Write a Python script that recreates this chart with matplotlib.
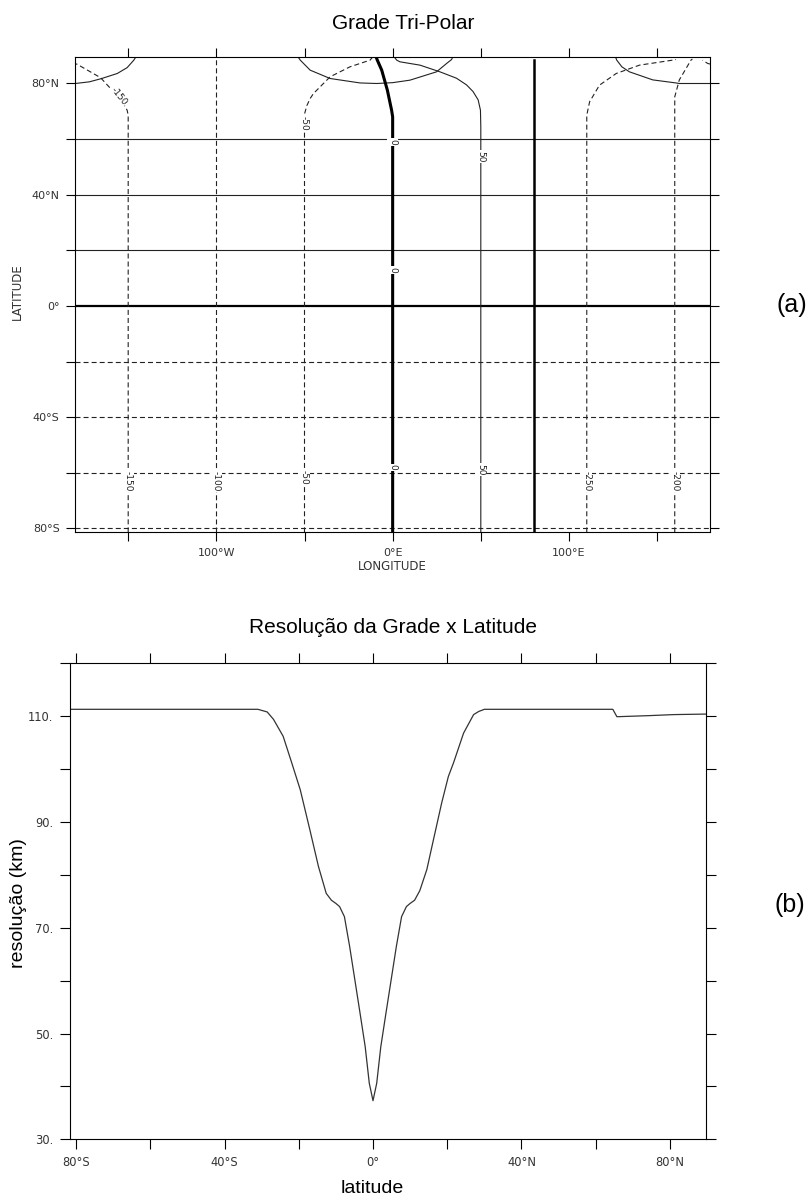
import matplotlib
matplotlib.use("Agg")
import matplotlib.pyplot as plt

plt.rcParams["lines.scale_dashes"] = False

# ---- painel (a): linhas de contorno da grade tri-polar (lon, lat)
lat_levels = [-80, -60, -40, -20, 0, 20, 40, 60]

lat80_w_lon = [-180, -172, -165, -156.2, -150.6, -146.8, -145.8]
lat80_w_lat = [80.0, 80.6, 81.8, 83.6, 85.7, 88.4, 89.4]
lat80_m_lon = [-53.5, -52.4, -46.8, -35.5, -18.5, -9.1, 0.0, 9.8, 24.9, 30.6, 33.4, 34.0]
lat80_m_lat = [89.4, 88.4, 84.8, 81.8, 80.2, 80.0, 80.3, 81.2, 84.2, 87.2, 88.6, 89.4]
lat80_e_lon = [126.5, 127.1, 130.0, 134.3, 147.5, 160.7, 162.6, 180]
lat80_e_lat = [89.4, 88.4, 86.0, 84.2, 81.3, 80.2, 80.0, 80.0]

lon_m150_lon = [-150, -150, -150.6, -155.3, -160, -165.7, -172.3, -178.9, -180]
lon_m150_lat = [-81.4, 68.6, 70.4, 75.5, 78.2, 82.1, 84.5, 86.9, 87.1]
lon_m150b_lon = [180, 178.7, 175.8]
lon_m150b_lat = [87.0, 87.2, 88.4]
lon_m100_lon = [-100, -100]
lon_m100_lat = [-81.4, 89.4]
lon_m50_lon = [-50, -50, -48.7, -46.8, -44.9, -35.5, -24.2, -12.8, -11.5]
lon_m50_lat = [-81.4, 69.0, 72.0, 74.6, 76.4, 82.4, 86.0, 88.4, 89.4]
lon_0_lon = [0, 0, -0.6, -3.0, -6.2, -8.7, -9.3]
lon_0_lat = [-81.4, 68.0, 70.4, 77.6, 84.8, 88.4, 89.4]
lon_50_lon = [50, 50, 49.8, 48.5, 45.6, 41.9, 36.2, 26.8, 15.5, 4.1, 2.3, 1.3]
lon_50_lat = [-81.4, 64.4, 70.4, 74.1, 77.1, 79.5, 81.9, 84.2, 86.6, 87.8, 88.4, 89.2]
lon_80_lon = [80, 80]
lon_80_lat = [-81.4, 88.3]
lon_m250_lon = [110.1, 110.1, 111.7, 117.3, 126.8, 140.0, 158.8, 160.7]
lon_m250_lat = [-81.4, 68.6, 73.4, 79.4, 83.6, 86.6, 88.4, 88.6]
lon_m200_lon = [160, 160, 162.6, 169.2, 170.0]
lon_m200_lat = [-81.4, 75.2, 81.3, 88.4, 88.8]

clabel_text = ["-150", "-100", "-50", "0", "50", "-250", "-200",
               "-150", "-50", "0", "50", "0"]
clabel_lon = [-150, -100, -50, 0, 50, 110.1, 160, -155.3, -50, 0, 50, 0]
clabel_lat = [-62.9, -62.9, -61.8, -58.0, -58.9, -62.9, -62.9, 75.5, 65.7, 59.0, 53.6, 12.9]
clabel_rot = [-90, -90, -90, -90, -90, -90, -90, -51, -90, -90, -90, -90]

xticks_a = [-150, -100, -50, 0, 50, 100, 150]
xlabels_a = ["", "100°W", "", "0°E", "", "100°E", ""]
yticks_a = [-80, -60, -40, -20, 0, 20, 40, 60, 80]
ylabels_a = ["80°S", "", "40°S", "", "0°", "", "40°N", "", "80°N"]

# ---- painel (b): resolução x latitude
lat = [-81.7, -31.0, -30.0, -28.5, -26.8, -24.2, -21.9, -19.6, -17.0, -14.7, -12.6,
       -11.2, -10.0, -9.0, -7.7, -6.3, -4.9, -3.5, -2.1, -1.0, 0.0, 1.0, 2.1, 3.5,
       4.9, 6.3, 7.7, 9.0, 10.0, 11.2, 12.6, 14.5, 16.3, 18.5, 20.3, 21.7, 24.4,
       27.1, 28.5, 30.0, 64.6, 65.7, 74.2, 81.0, 89.7]
res = [111.3, 111.3, 111.1, 110.8, 109.4, 106.2, 101.2, 96.1, 88.5, 81.6, 76.5,
       75.2, 74.6, 74.0, 72.1, 66.5, 60.2, 53.9, 47.5, 40.6, 37.3, 40.6, 47.5, 53.9,
       60.2, 66.5, 72.1, 74.0, 74.6, 75.2, 77.0, 81.0, 86.7, 93.6, 98.6, 101.2, 106.8,
       110.3, 110.9, 111.3, 111.3, 109.9, 110.1, 110.3, 110.4]

xticks_b = [-80, -60, -40, -20, 0, 20, 40, 60, 80]
xlabels_b = ["80°S", "", "40°S", "", "0°", "", "40°N", "", "80°N"]
yticks_b = [30, 40, 50, 60, 70, 80, 90, 100, 110, 120]
ylabels_b = ["30.", "", "50.", "", "70.", "", "90.", "", "110.", ""]

fig = plt.figure(figsize=(8.11, 11.95), dpi=100)

thin = dict(color="#222222", lw=0.8)
dash = dict(color="#222222", lw=0.8, dashes=(3.6, 2.2))
thick = dict(color="black", lw=2.2)

ax1 = fig.add_axes([0.09285, 0.55456, 0.78262, 0.39749])
for lv in lat_levels:
    st = dash if lv < 0 else thin
    if lv == 0:
        st = dict(color="black", lw=1.6)
    ax1.plot([-180, 180], [lv, lv], **st)
ax1.plot(lat80_w_lon, lat80_w_lat, **thin)
ax1.plot(lat80_m_lon, lat80_m_lat, **thin)
ax1.plot(lat80_e_lon, lat80_e_lat, **thin)

ax1.plot(lon_m150_lon, lon_m150_lat, **dash)
ax1.plot(lon_m150b_lon, lon_m150b_lat, **dash)
ax1.plot(lon_m100_lon, lon_m100_lat, **dash)
ax1.plot(lon_m50_lon, lon_m50_lat, **dash)
ax1.plot(lon_0_lon, lon_0_lat, **thick)
ax1.plot(lon_50_lon, lon_50_lat, **thin)
ax1.plot(lon_80_lon, lon_80_lat, color="black", lw=1.8)
ax1.plot(lon_m250_lon, lon_m250_lat, **dash)
ax1.plot(lon_m200_lon, lon_m200_lat, **dash)

for t, x, y, r in zip(clabel_text, clabel_lon, clabel_lat, clabel_rot):
    ax1.text(x, y, t, rotation=r, ha="center", va="center", fontsize=6.5,
             family="DejaVu Sans", color="#222222",
             bbox=dict(fc="white", ec="none", pad=0.6))

ax1.set_xlim(-180, 180)
ax1.set_ylim(-81.37, 89.42)
ax1.set_xticks(xticks_a, xlabels_a)
ax1.set_yticks(yticks_a, ylabels_a)
ax1.tick_params(direction="out", length=6.8, width=0.8, top=True, right=True,
                labelsize=8, pad=4.5, labelcolor="#333333")
for s in ax1.spines.values():
    s.set_linewidth(0.8)

fig.text(402.8 / 811, 1 - 29.3 / 1195, "Grade Tri-Polar", ha="center", va="baseline",
         fontsize=15, family="Liberation Sans")
fig.text(392.7 / 811, 1 - 566 / 1195, "LONGITUDE", ha="center", va="center",
         fontsize=8.5, family="DejaVu Sans", color="#333333")
fig.text(17 / 811, 1 - 292 / 1195, "LATITUDE", ha="center", va="center", rotation=90,
         fontsize=8.5, family="DejaVu Sans", color="#333333")
fig.text(792 / 811, 1 - 305 / 1195, "(a)", ha="center", va="center",
         fontsize=18, family="Liberation Sans")

ax2 = fig.add_axes([0.08594, 0.04661, 0.78459, 0.39833])
ax2.plot(lat, res, color="#333333", lw=0.9)
ax2.set_xlim(-81.7, 89.7)
ax2.set_ylim(30, 120)
ax2.set_xticks(xticks_b, xlabels_b)
ax2.set_yticks(yticks_b, ylabels_b)
ax2.tick_params(direction="out", length=7, width=0.8, top=True, right=True,
                labelsize=8.3, pad=5, labelcolor="#333333")
for s in ax2.spines.values():
    s.set_linewidth(0.8)

fig.text(393 / 811, 1 - 633 / 1195, "Resolução da Grade x Latitude", ha="center",
         va="baseline", fontsize=15, family="Liberation Sans")
fig.text(372.7 / 811, 1 - 1192.7 / 1195, "latitude", ha="center", va="baseline",
         fontsize=14, family="Liberation Sans")
fig.text(19 / 811, 1 - 903 / 1195, "resolução (km)", ha="center", va="center",
         rotation=90, fontsize=14, family="Liberation Sans")
fig.text(790 / 811, 1 - 905 / 1195, "(b)", ha="center", va="center",
         fontsize=18, family="Liberation Sans")

fig.savefig("out.png", dpi=100, facecolor="white")
